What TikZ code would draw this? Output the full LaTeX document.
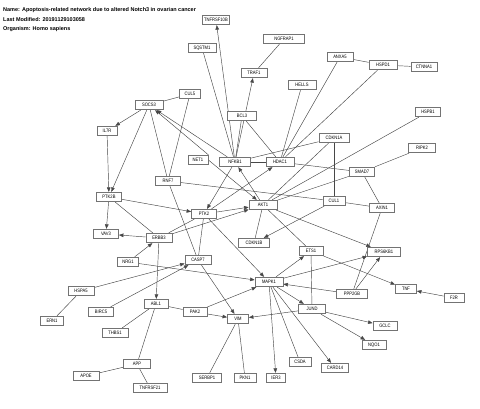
\documentclass[tikz,border=0pt]{standalone}
\usepackage{fontspec}
\setmainfont{Liberation Sans}
\usetikzlibrary{arrows.meta}
\pgfdeclarelayer{bg}
\pgfsetlayers{bg,main}
\tikzset{
  gbox/.style={draw=black!55, line width=0.8pt, fill=white, minimum height=9.5pt, inner sep=0pt, font=\fontsize{4.9}{4.9}\selectfont},
  ttl/.style={anchor=west, inner sep=0pt, font=\fontsize{5.5}{5.5}\selectfont\bfseries},
  lnk/.style={draw=black!72, line width=0.45pt},
  arr/.style={lnk, -{Triangle[length=4.5pt,width=3.6pt]}}
}
\newcommand{\gn}[5]{\node[gbox, minimum width=#4pt] (#1) at (#2,#3) {\scalebox{0.84}[1]{#5}};}
\begin{document}
\begin{tikzpicture}[x=1pt,y=-1pt]
\useasboundingbox (0,0) rectangle (480,409);
\node[ttl] (t1) at (3,10) {Name: Apoptosis-related network due to altered Notch3 in ovarian cancer};
\node[ttl] (t2) at (3,19.5) {Last Modified: 20191129103058};
\node[ttl] (t3) at (3,29) {Organism: Homo sapiens};
\gn{TNFRSF10B}{216}{20}{27}{TNFRSF10B}
\gn{SQSTM1}{202}{48}{28}{SQSTM1}
\gn{NGFRAP1}{284}{39}{41}{NGFRAP1}
\gn{TRAF1}{254}{73}{26}{TRAF1}
\gn{ANXA5}{340}{57}{26}{ANXA5}
\gn{HSPD1}{383}{65}{28}{HSPD1}
\gn{CTNNA1}{424}{67}{26}{CTNNA1}
\gn{HELLS}{302}{85}{28}{HELLS}
\gn{CUL5}{190}{94}{21}{CUL5}
\gn{SOCS3}{149}{105}{28}{SOCS3}
\gn{BCL3}{242}{116}{29}{BCL3}
\gn{HSPB1}{428}{112}{25}{HSPB1}
\gn{IL7R}{107}{131}{20}{IL7R}
\gn{CDKN1A}{334}{138}{30}{CDKN1A}
\gn{RIPK2}{422}{148}{27}{RIPK2}
\gn{NET1}{198}{160}{20}{NET1}
\gn{NFKB1}{235}{162}{31}{NFKB1}
\gn{HDAC1}{280}{162}{28}{HDAC1}
\gn{SMAD7}{362}{172}{25}{SMAD7}
\gn{RNF7}{168}{181}{25}{RNF7}
\gn{PTK2B}{109}{197}{25}{PTK2B}
\gn{CUL1}{334}{201}{22}{CUL1}
\gn{AKT1}{263}{205}{28}{AKT1}
\gn{AXIN1}{382}{208}{25}{AXIN1}
\gn{PTK2}{204}{214}{25}{PTK2}
\gn{VAV3}{106}{234}{25}{VAV3}
\gn{ERBB3}{159}{238}{26}{ERBB3}
\gn{CDKN1B}{254}{243}{31}{CDKN1B}
\gn{ETS1}{311}{251}{24}{ETS1}
\gn{RPS6KB1}{384}{252}{33}{RPS6KB1}
\gn{CASP7}{198}{260}{26}{CASP7}
\gn{NRG1}{128}{262}{21}{NRG1}
\gn{MAPK1}{269}{282}{28}{MAPK1}
\gn{TNF}{406}{289}{21}{TNF}
\gn{HSPA5}{81}{291}{26}{HSPA5}
\gn{PPP2GB}{352}{294}{31}{PPP2GB}
\gn{F2R}{454}{298}{20}{F2R}
\gn{ABL1}{156}{304}{24}{ABL1}
\gn{JUND}{312}{309}{27}{JUND}
\gn{PAK2}{195}{312}{24}{PAK2}
\gn{BIRC5}{101}{312}{25}{BIRC5}
\gn{VIM}{238}{319}{21}{VIM}
\gn{ERN1}{52}{321}{23}{ERN1}
\gn{GCLC}{385}{326}{24}{GCLC}
\gn{THBS1}{115}{333}{26}{THBS1}
\gn{NQO1}{374}{345}{24}{NQO1}
\gn{CSDA}{300}{362}{22}{CSDA}
\gn{APP}{137}{364}{27}{APP}
\gn{CARD14}{335}{368}{27}{CARD14}
\gn{APOE}{86}{376}{26}{APOE}
\gn{SERBP1}{207}{378}{29}{SERBP1}
\gn{PKN1}{245}{378}{22}{PKN1}
\gn{IER3}{276}{378}{19}{IER3}
\gn{TNFRSF21}{150}{388}{34}{TNFRSF21}
\begin{pgfonlayer}{bg}
\draw[arr] (NFKB1) -- (TNFRSF10B);
\draw[lnk] (SQSTM1) -- (NFKB1);
\draw[lnk] (NGFRAP1) -- (TRAF1);
\draw[arr] (NFKB1) -- (TRAF1);
\draw[lnk] (BCL3) -- (NFKB1);
\draw[lnk] (BCL3) -- (HDAC1);
\draw[lnk] (ANXA5) -- (HSPD1);
\draw[lnk] (HSPD1) -- (CTNNA1);
\draw[lnk] (HELLS) -- (HDAC1);
\draw[lnk] (ANXA5) -- (HDAC1);
\draw[lnk] (HSPD1) -- (HDAC1);
\draw[lnk] (CUL5) -- (SOCS3);
\draw[lnk] (CUL5) -- (RNF7);
\draw[arr] (SOCS3) -- (IL7R);
\draw[arr] (SOCS3) -- (PTK2B);
\draw[lnk] (SOCS3) -- (RNF7);
\draw[arr] (NFKB1) -- (SOCS3);
\draw[arr] (NET1.north east) -- (SOCS3);
\draw[arr] (NET1.east) -- (AKT1);
\draw[arr] (IL7R) -- (PTK2B);
\draw[lnk] (HSPB1) -- (AKT1);
\draw[lnk] (CDKN1A) -- (CUL1);
\draw[lnk] (CDKN1A) -- (NFKB1);
\draw[lnk] (CDKN1A) -- (AKT1);
\draw[lnk] (RIPK2) -- (SMAD7);
\draw[lnk] (HDAC1) -- (SMAD7);
\draw[lnk] (SMAD7) -- (AKT1);
\draw[lnk] (SMAD7) -- (AXIN1);
\draw[lnk] (CUL1) -- (AXIN1);
\draw[arr] (CUL1) -- (CDKN1B);
\draw[lnk] (RNF7) -- (CUL1);
\draw[lnk] (NFKB1) -- (HDAC1);
\draw[arr] (AKT1) -- (NFKB1);
\draw[arr] (PTK2) -- (HDAC1);
\draw[arr] (NFKB1) -- (PTK2);
\draw[arr] (PTK2B) -- (PTK2);
\draw[arr] (PTK2) -- (AKT1);
\draw[arr] (ERBB3) -- (AKT1);
\draw[lnk] (ERBB3) -- (PTK2);
\draw[lnk] (PTK2) -- (CASP7);
\draw[arr] (PTK2) -- (MAPK1);
\draw[arr] (PTK2B) -- (VAV3);
\draw[lnk] (PTK2B) -- (ERBB3);
\draw[arr] (ERBB3) -- (VAV3);
\draw[arr] (NRG1) -- (ERBB3);
\draw[arr] (ERBB3) -- (ABL1);
\draw[arr] (NRG1) -- (MAPK1);
\draw[lnk] (RNF7) -- (CASP7);
\draw[arr] (CASP7) -- (VIM);
\draw[arr] (HSPA5) -- (CASP7);
\draw[arr] (BIRC5) -- (CASP7);
\draw[lnk] (HSPA5) -- (ERN1);
\draw[lnk] (ABL1) -- (PAK2);
\draw[lnk] (ABL1) -- (THBS1);
\draw[lnk] (ABL1) -- (APP);
\draw[lnk] (APP) -- (APOE);
\draw[lnk] (APP) -- (TNFRSF21);
\draw[arr] (PAK2) -- (VIM);
\draw[arr] (PAK2) -- (MAPK1);
\draw[lnk] (SERBP1) -- (VIM);
\draw[lnk] (PKN1) -- (VIM);
\draw[arr] (JUND) -- (VIM);
\draw[arr] (MAPK1) -- (ETS1);
\draw[arr] (MAPK1) -- (JUND);
\draw[arr] (PPP2GB) -- (MAPK1);
\draw[arr] (MAPK1) -- (IER3);
\draw[lnk] (MAPK1) -- (CSDA);
\draw[arr] (MAPK1) -- (CARD14);
\draw[arr] (MAPK1) -- (RPS6KB1);
\draw[arr] (AKT1) -- (RPS6KB1);
\draw[arr] (PPP2GB) -- (RPS6KB1);
\draw[lnk] (AXIN1) -- (PPP2GB);
\draw[arr] (ETS1) -- (TNF);
\draw[lnk] (ETS1) -- (JUND);
\draw[arr] (JUND) -- (GCLC);
\draw[arr] (JUND) -- (NQO1);
\draw[arr] (F2R) -- (TNF);
\draw[lnk] (AKT1) -- (CDKN1B);
\draw[lnk] (AKT1) -- (ETS1);
\end{pgfonlayer}
\end{tikzpicture}
\end{document}
